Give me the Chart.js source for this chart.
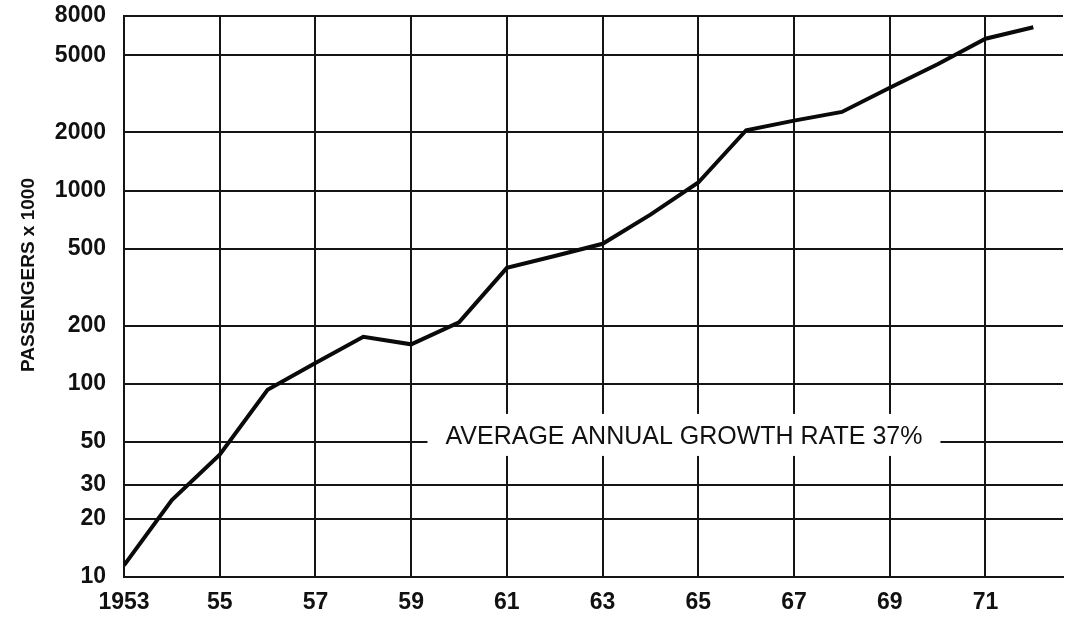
<!DOCTYPE html>
<html>
<head>
<meta charset="utf-8">
<script src="https://cdn.jsdelivr.net/npm/chart.js@4"></script>
<style>
  html, body { margin: 0; padding: 0; background: #ffffff; }
  #wrap { width: 1077px; height: 619px; position: relative; }
  canvas { display: block; }
</style>
</head>
<body>
<div id="wrap"><canvas id="c" width="1077" height="619"></canvas></div>
<script>
// Passenger counts (thousands) per year
const years = [1953, 1954, 1955, 1956, 1957, 1958, 1959, 1960, 1961, 1962,
               1963, 1964, 1965, 1966, 1967, 1968, 1969, 1970, 1971, 1972];
const passengers = [11.5, 25, 43, 93, 128, 175, 160, 208, 398, 458,
                    530, 750, 1100, 2050, 2300, 2550, 3400, 4500, 6100, 7000];

// Axis ticks
const xTickValues = [1953, 1955, 1957, 1959, 1961, 1963, 1965, 1967, 1969, 1971];
const xTickLabels = ['1953', '55', '57', '59', '61', '63', '65', '67', '69', '71'];
const yTickValues = [10, 20, 30, 50, 100, 200, 500, 1000, 2000, 5000, 8000];
const yTickLabels = ['10', '20', '30', '50', '100', '200', '500', '1000', '2000', '5000', '8000'];

const yTitle = 'PASSENGERS x 1000';
const noteText = 'AVERAGE ANNUAL GROWTH RATE 37%';

const FONT = '"Liberation Sans", Arial, Helvetica, sans-serif';

// Growth-rate note sitting on the 50 grid line, plus the rotated axis title
const overlay = {
  id: 'overlay',
  afterDatasetsDraw(chart) {
    const ctx = chart.ctx;
    const xs = chart.scales.x, ys = chart.scales.y;
    const cx = xs.getPixelForValue(1964.7);
    const cy = ys.getPixelForValue(50) - 6;
    ctx.save();
    ctx.font = '25px ' + FONT;
    const w = ctx.measureText(noteText).width;
    ctx.fillStyle = '#ffffff';
    ctx.fillRect(cx - w / 2 - 18, cy - 22, w + 36, 42);
    ctx.fillStyle = '#111111';
    ctx.textAlign = 'center';
    ctx.textBaseline = 'middle';
    ctx.fillText(noteText, cx, cy + 1);
    ctx.restore();

    ctx.save();
    ctx.translate(29, 275);
    ctx.rotate(-Math.PI / 2);
    ctx.font = 'bold 19px ' + FONT;
    ctx.fillStyle = '#111111';
    ctx.textAlign = 'center';
    ctx.textBaseline = 'middle';
    ctx.fillText(yTitle, 0, 0);
    ctx.restore();
  }
};

new Chart(document.getElementById('c'), {
  type: 'line',
  data: {
    datasets: [{
      data: years.map((y, i) => ({ x: y, y: passengers[i] })),
      borderColor: '#0a0a0a',
      borderWidth: 4,
      pointRadius: 0,
      tension: 0,
      fill: false
    }]
  },
  options: {
    responsive: false,
    animation: false,
    devicePixelRatio: 1,
    layout: { padding: { top: 16, right: 14, left: 0, bottom: 0 } },
    plugins: { legend: { display: false }, tooltip: { enabled: false } },
    scales: {
      x: {
        type: 'linear',
        min: 1953,
        max: 1972.62,
        afterBuildTicks(scale) { scale.ticks = xTickValues.map(v => ({ value: v })); },
        afterFit(scale) { scale.height = 42; scale.paddingLeft = 0; scale.paddingRight = 0; },
        ticks: {
          autoSkip: false,
          maxRotation: 0,
          padding: 12,
          color: '#111111',
          font: { family: FONT, size: 23, weight: 'bold' },
          callback(v) { const i = xTickValues.indexOf(v); return i >= 0 ? xTickLabels[i] : ''; }
        },
        grid: { color: '#151515', lineWidth: 2, drawTicks: false },
        border: { color: '#151515', width: 2 }
      },
      y: {
        type: 'logarithmic',
        min: 10,
        max: 8000,
        afterBuildTicks(scale) { scale.ticks = yTickValues.map(v => ({ value: v })); },
        afterFit(scale) { scale.width = 124; scale.paddingTop = 0; scale.paddingBottom = 0; },
        ticks: {
          autoSkip: false,
          padding: 18,
          color: '#111111',
          font: { family: FONT, size: 23, weight: 'bold' },
          callback(v) { const i = yTickValues.indexOf(v); return i >= 0 ? yTickLabels[i] : ''; }
        },
        grid: { color: '#151515', lineWidth: 2, drawTicks: false },
        border: { color: '#151515', width: 2 }
      }
    }
  },
  plugins: [overlay]
});
</script>
</body>
</html>
